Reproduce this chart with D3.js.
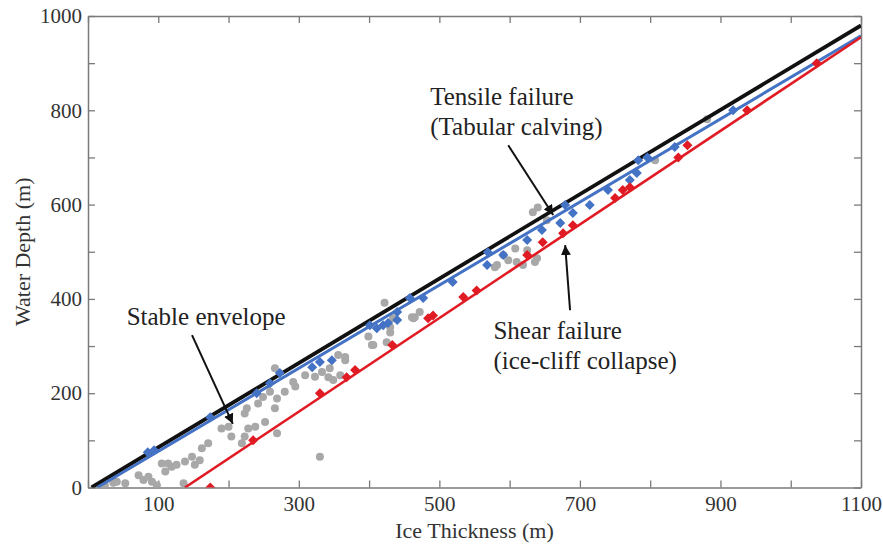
<!DOCTYPE html>
<html>
<head>
<meta charset="utf-8">
<script src="https://cdn.jsdelivr.net/npm/d3@7"></script>
<style>
  body { margin: 0; background: #fff; }
  text { font-family: "Liberation Serif", "DejaVu Serif", serif; }
</style>
</head>
<body>
<div id="chart"></div>
<script>
// chart size and margins
var width = 883, height = 545;
var margin = { top: 16, right: 22, bottom: 57.5, left: 88 };

// ---- data (ice thickness, water depth) ----
var stablePts = [
  [24,5],[36,10],[41,12],[53,9],[72,26],[79,16],[86,23],[91,12],[98,5],
  [105,51],[110,34],[114,51],[119,44],[126,48],[136,9],[138,55],[148,65],
  [152,48],[159,58],[162,83],[171,94],[190,125],[200,129],[204,108],
  [219,94],[223,108],[228,125],[238,129],[252,139],[269,115],[223,157],
  [226,168],[242,178],[249,192],[259,203],[269,189],[266,168],[280,203],
  [266,253],[292,224],[295,214],[309,238],[323,235],[333,245],[344,253],
  [349,228],[359,238],[366,270],[356,281],[342,234],[366,277],[399,320],
  [404,302],[406,302],[425,308],[430,329],[422,392],[430,340],[434,359],
  [461,361],[465,361],[472,372],[463,359],[579,467],[582,472],[591,493],
  [598,482],[608,507],[610,478],[619,472],[625,503],[636,478],[639,486],
  [633,584],[640,594],[653,567],[807,694],[881,781],[330,65]
];

var tensilePts = [
  [85,75],[94,79],[174,149],[240,200],[259,221],[273,243],[319,255],
  [330,266],[347,270],[401,344],[411,338],[420,344],[427,349],[440,355],
  [440,372],[458,402],[477,402],[519,436],[568,472],[569,499],[591,493],
  [625,525],[646,546],[672,561],[679,599],[690,582],[714,599],[740,631],
  [771,652],[781,667],[783,694],[796,700],[835,722],[918,800]
];

var shearPts = [
  [174,0],[235,100],[330,200],[368,234],[380,249],[433,302],[484,359],
  [491,365],[534,404],[553,418],[625,493],[647,520],[676,539],[690,556],
  [750,614],[761,631],[771,637],[840,700],[853,726],[938,800],[1037,900]
];

// envelope lines, end points
var stableLine = [[5,0],[1100,980]];
var tensileLine = [[13,0],[1100,958]];
var shearLine = [[138,0],[1100,955]];

var xTicks = [0,100,200,300,400,500,600,700,800,900,1000,1100];
var xTickLabels = [100,300,500,700,900,1100];
var yTicks = [0,100,200,300,400,500,600,700,800,900,1000];
var yTickLabels = [0,200,400,600,800,1000];

// annotations: text lines and arrows in data units
var labels = [
  { text: "Stable envelope", x: 55, y: 345 },
  { text: "Tensile failure", x: 487, y: 811 },
  { text: "(Tabular calving)", x: 487, y: 747 },
  { text: "Shear failure", x: 577, y: 315 },
  { text: "(ice-cliff collapse)", x: 577, y: 251 }
];
var arrows = [
  { from: [148,323], to: [206,135] },
  { from: [598,726], to: [662,578] },
  { from: [686,376], to: [679,514] }
];

var svg = d3.select('#chart').append('svg')
  .attr('width', width)
  .attr('height', height);

var xScale = d3.scaleLinear()
  .domain([0, 1100])
  .range([margin.left, width - margin.right]);

var yScale = d3.scaleLinear()
  .domain([0, 1000])
  .range([height - margin.bottom, margin.top]);

svg.append('defs').append('clipPath').attr('id', 'plotclip')
  .append('rect')
  .attr('x', margin.left).attr('y', margin.top)
  .attr('width', xScale(1100) - xScale(0))
  .attr('height', yScale(0) - yScale(1000));

var axisColor = '#7a7a7a';
var tickLen = 7;

// box axes with inward ticks on every side
var xBottom = d3.axisBottom(xScale).tickValues(xTicks).tickSizeInner(-tickLen).tickSizeOuter(0)
  .tickFormat(d => xTickLabels.indexOf(d) >= 0 ? d : '').tickPadding(9);
var xTop = d3.axisTop(xScale).tickValues(xTicks).tickSizeInner(-tickLen).tickSizeOuter(0).tickFormat('');
var yLeft = d3.axisLeft(yScale).tickValues(yTicks).tickSizeInner(-tickLen).tickSizeOuter(0)
  .tickFormat(d => yTickLabels.indexOf(d) >= 0 ? d : '').tickPadding(6);
var yRight = d3.axisRight(yScale).tickValues(yTicks).tickSizeInner(-tickLen).tickSizeOuter(0).tickFormat('');

function styleAxis(g) {
  g.select('.domain').attr('stroke', axisColor).attr('stroke-width', 1.5);
  g.selectAll('.tick line').attr('stroke', axisColor).attr('stroke-width', 1.3);
  g.selectAll('.tick text')
    .attr('fill', '#333')
    .style('font-family', '"Liberation Serif", serif')
    .style('font-size', '21px');
}

svg.append('g').attr('transform', 'translate(0,' + yScale(0) + ')').call(xBottom).call(styleAxis);
svg.append('g').attr('transform', 'translate(0,' + yScale(1000) + ')').call(xTop).call(styleAxis);
svg.append('g').attr('transform', 'translate(' + xScale(0) + ',0)').call(yLeft).call(styleAxis);
svg.append('g').attr('transform', 'translate(' + xScale(1100) + ',0)').call(yRight).call(styleAxis);

// axis titles
svg.append('text')
  .attr('x', (xScale(0) + xScale(1100)) / 2)
  .attr('y', 538)
  .attr('text-anchor', 'middle')
  .attr('fill', '#333')
  .style('font-size', '22px')
  .text('Ice Thickness (m)');

svg.append('text')
  .attr('transform', 'translate(30,' + (yScale(0) + yScale(1000)) / 2 + ') rotate(-90)')
  .attr('text-anchor', 'middle')
  .attr('fill', '#333')
  .style('font-size', '22px')
  .text('Water Depth (m)');

var plot = svg.append('g').attr('clip-path', 'url(#plotclip)');

// stable points
plot.selectAll('circle.stable')
  .data(stablePts)
  .enter().append('circle')
  .attr('class', 'stable')
  .attr('cx', d => xScale(d[0]))
  .attr('cy', d => yScale(d[1]))
  .attr('r', 4)
  .attr('fill', '#a8a8a8');

var line = d3.line().x(d => xScale(d[0])).y(d => yScale(d[1]));

plot.append('path').datum(stableLine).attr('d', line)
  .attr('stroke', '#111').attr('stroke-width', 3.8).attr('fill', 'none');
plot.append('path').datum(tensileLine).attr('d', line)
  .attr('stroke', '#4472c4').attr('stroke-width', 3).attr('fill', 'none');
plot.append('path').datum(shearLine).attr('d', line)
  .attr('stroke', '#e01b24').attr('stroke-width', 2.6).attr('fill', 'none');

// diamonds
var diamond = d3.symbol().type(d3.symbolSquare).size(50);

function drawDiamonds(pts, color) {
  plot.append('g').selectAll('path')
    .data(pts)
    .enter().append('path')
    .attr('d', diamond)
    .attr('transform', d => 'translate(' + xScale(d[0]) + ',' + yScale(d[1]) + ') rotate(45)')
    .attr('fill', color);
}
drawDiamonds(tensilePts, '#4472c4');
drawDiamonds(shearPts, '#e01b24');

// annotations
svg.append('g').selectAll('text')
  .data(labels)
  .enter().append('text')
  .attr('x', d => xScale(d.x))
  .attr('y', d => yScale(d.y))
  .attr('fill', '#222')
  .style('font-size', '25px')
  .text(d => d.text);

svg.append('defs').append('marker')
  .attr('id', 'head')
  .attr('viewBox', '0 0 10 10')
  .attr('refX', 10).attr('refY', 5)
  .attr('markerWidth', 5).attr('markerHeight', 5)
  .attr('markerUnits', 'strokeWidth')
  .attr('orient', 'auto')
  .append('path')
  .attr('d', 'M0,0 L10,5 L0,10 Z')
  .attr('fill', '#111');

svg.append('g').selectAll('line')
  .data(arrows)
  .enter().append('line')
  .attr('x1', d => xScale(d.from[0]))
  .attr('y1', d => yScale(d.from[1]))
  .attr('x2', d => xScale(d.to[0]))
  .attr('y2', d => yScale(d.to[1]))
  .attr('stroke', '#111')
  .attr('stroke-width', 2)
  .attr('marker-end', 'url(#head)');
</script>
</body>
</html>
